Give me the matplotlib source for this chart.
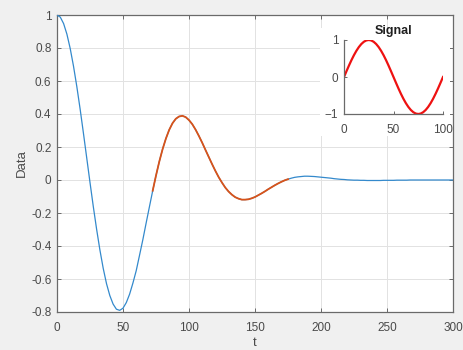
import numpy as np
import matplotlib
matplotlib.use("Agg")
import matplotlib.pyplot as plt
from matplotlib.patches import Rectangle

plt.rcParams['font.family'] = ['Liberation Sans', 'DejaVu Sans']

# ---- data ----
t_main = np.arange(0, 302.5, 2.5)
data_main = [1.000, 0.987, 0.948, 0.884, 0.797, 0.690, 0.567, 0.431, 0.285, 0.135,
             -0.015, -0.161, -0.298, -0.424, -0.535, -0.628, -0.700, -0.752, -0.783, -0.790,
             -0.777, -0.743, -0.692, -0.625, -0.550, -0.457, -0.363, -0.262, -0.163, -0.065,
             0.027, 0.112, 0.187, 0.251, 0.304, 0.344, 0.371, 0.385, 0.389, 0.381,
             0.363, 0.338, 0.305, 0.267, 0.226, 0.182, 0.139, 0.096, 0.055, 0.017,
             -0.016, -0.046, -0.070, -0.089, -0.104, -0.113, -0.119, -0.119, -0.117, -0.111,
             -0.103, -0.092, -0.081, -0.069, -0.056, -0.044, -0.032, -0.021, -0.011, -0.002,
             0.005, 0.011, 0.016, 0.019, 0.021, 0.023, 0.023, 0.022, 0.021, 0.019,
             0.017, 0.015, 0.013, 0.011, 0.008, 0.006, 0.004, 0.003, 0.001, 0.000,
             -0.001, -0.001, -0.002, -0.002, -0.003, -0.003, -0.003, -0.003, -0.003, -0.002,
             -0.002, -0.002, -0.002, -0.001, -0.001, -0.001, -0.001, 0.0, 0.0, 0.0,
             0.0, 0.0, 0.0, 0.0, 0.0, 0.0, 0.0, 0.0, 0.0, 0.0,
             0.0]
highlight_range = (72.5, 175)

t_signal = np.arange(0, 102.5, 2.5)
signal = [0.0, 0.156, 0.309, 0.454, 0.588, 0.707, 0.809, 0.891, 0.951, 0.988,
          1.0, 0.988, 0.951, 0.891, 0.809, 0.707, 0.588, 0.454, 0.309, 0.156,
          0.0, -0.156, -0.309, -0.454, -0.588, -0.707, -0.809, -0.891, -0.951, -0.988,
          -1.0, -0.988, -0.951, -0.891, -0.809, -0.707, -0.588, -0.454, -0.309, -0.156,
          0.0]

x_ticks = [0, 50, 100, 150, 200, 250, 300]
y_ticks = [-0.8, -0.6, -0.4, -0.2, 0, 0.2, 0.4, 0.6, 0.8, 1]
y_ticklabels = ['-0.8', '-0.6', '-0.4', '-0.2', '0', '0.2', '0.4', '0.6', '0.8', '1']
inset_xticks = [0, 50, 100]
inset_yticks = [-1, 0, 1]

# ---- style ----
W, H = 463, 350
txt = '#4a4a4a'
spine_c = '#6a6a6a'
fs = 8.5

fig = plt.figure(figsize=(W / 100, H / 100), dpi=100, facecolor='#f0f0f0')

def fx(px):
    return px / W

def fy(py):
    return 1 - py / H

ax = fig.add_axes([fx(57), fy(312), fx(453) - fx(57), fy(15) - fy(312)])
ax.set_facecolor('white')
t_arr = np.asarray(t_main)
y_arr = np.asarray(data_main)
ax.plot(t_arr, y_arr, color='#3389cc', lw=0.9, zorder=3)
mask = (t_arr >= highlight_range[0]) & (t_arr <= highlight_range[1])
ax.plot(t_arr[mask], y_arr[mask], color='#D95319', lw=1.3, zorder=4)

ax.set_xlim(0, 300)
ax.set_ylim(-0.8, 1)
ax.set_xticks(x_ticks)
ax.set_yticks(y_ticks)
ax.set_yticklabels(y_ticklabels)
ax.grid(True, color='#e2e2e2', lw=0.7)
ax.set_axisbelow(True)
ax.tick_params(direction='in', length=3, width=0.7, top=True, right=True,
               labelsize=fs, labelcolor=txt, color=spine_c)
ax.tick_params(axis='x', pad=7)
ax.tick_params(axis='y', pad=4)
for s in ax.spines.values():
    s.set_color(spine_c)
    s.set_linewidth(0.9)
ax.set_xlabel('t', fontsize=9.5, color=txt, labelpad=2)
ax.set_ylabel('Data', fontsize=9.5, color=txt, labelpad=2)

# white panel behind inset
fig.add_artist(Rectangle((fx(320), fy(136)), fx(449.5) - fx(320), fy(28) - fy(136),
                         transform=fig.transFigure, facecolor='white',
                         edgecolor='none', zorder=1))

ins = fig.add_axes([fx(344), fy(114), fx(443) - fx(344), fy(40) - fy(114)])
ins.set_zorder(2)
ins.set_facecolor('white')
ins.plot(t_signal, signal, color='#ee1111', lw=1.6)
ins.set_xlim(0, 100)
ins.set_ylim(-1, 1)
ins.set_xticks(inset_xticks)
ins.set_yticks(inset_yticks)
ins.spines['top'].set_visible(False)
ins.spines['right'].set_visible(False)
for s in ['left', 'bottom']:
    ins.spines[s].set_color(spine_c)
    ins.spines[s].set_linewidth(0.9)
ins.tick_params(direction='in', length=2.5, width=0.7, labelsize=fs,
                labelcolor=txt, color=spine_c)
ins.tick_params(axis='x', pad=7)
ins.tick_params(axis='y', pad=4)
ins.set_title('Signal', fontsize=9, fontweight='bold', color='#202020', pad=4)

fig.savefig('out.png', dpi=100, facecolor=fig.get_facecolor())
